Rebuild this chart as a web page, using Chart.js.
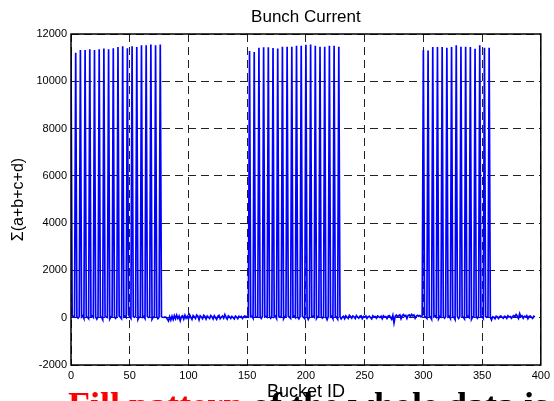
<!DOCTYPE html>
<html>
<head>
<meta charset="utf-8">
<script src="https://cdn.jsdelivr.net/npm/chart.js@4.4.1/dist/chart.umd.min.js"></script>
<style>
  html, body { margin: 0; padding: 0; background: #fff; overflow: hidden; width: 554px; height: 401px; }
  #wrap { position: relative; width: 554px; height: 401px; overflow: hidden; }
  canvas { position: absolute; left: 0; top: 0; }
  #caption { position: absolute; left: 68px; top: 387px; font-family: "Liberation Serif", "Times New Roman", serif;
    font-weight: bold; font-size: 36px; line-height: 36px; white-space: nowrap; color: #000; }
  #caption .red { color: #ff0000; }
</style>
</head>
<body>
<div id="wrap">
<canvas id="c" width="554" height="401"></canvas>
<div id="caption"><span class="red">Fill pattern</span> of the whole data is</div>
</div>
<script>
// ---- data ----
const chartTitle = "Bunch Current";
const xAxisLabel = "Bucket ID";
const yAxisLabel = "Σ(a+b+c+d)";
const xTicks = [0, 50, 100, 150, 200, 250, 300, 350, 400];
const yTicks = [-2000, 0, 2000, 4000, 6000, 8000, 10000, 12000];

// baseline signal per bucket (0..395), small noise around zero
const baseline = [
  0, 40, 60, 30, 0, 50, -20, 40, 0, 30, 80, -30, 0, 60, 20, -40, 0, 40, 70, 10,
  0, 30, -60, 50, 0, 40, 20, -80, 0, 60, 30, 10, 0, -50, 40, 60, 0, 20, -30, 50,
  0, 70, 20, -40, 0, 30, 60, 10, 0, 120, 40, -30, 0, 50, 20, 60, 0, -70, 30, 40,
  0, 20, 50, -30, 0, 60, 10, 40, 0, -60, 30, 20, 0, 50, -40, 30, 0, 40, 20, 10,
  30, 10, -60, -140, 40, -100, 60, -80, 90, -40, 110, -30, 70, -120, 50, 80, -60, 100, -20, 60,
  -50, 120, 20, -70, 90, 40, -30, 110, 60, -90, 80, 30, -40, 100, 50, -60, 70, 20, -30, 90,
  40, -50, 80, 10, -70, 60, 100, -40, 30, 70, -20, 130, 20, -60, 80, 40, -30, 60, 10, -50,
  70, 30, -40, 60, 20, 50, -30, 40, 80, 20, 60, 30, 0, 40, 60, -20, 0, 50, 30, 20,
  0, 40, -30, 60, 0, 30, 50, 20, 0, 60, -20, 40, 0, 30, 70, -30, 0, 40, 20, 60,
  0, -40, 50, 30, 0, 60, 20, -30, 0, 40, 70, 10, 0, 30, -50, 40, 0, 60, 20, -40,
  0, 50, -70, 30, 0, 40, 60, 20, 0, -30, 50, 40, 0, 60, -20, 30, 0, 40, -80, 50,
  0, 30, 60, -40, 0, 50, 20, -60, 0, 40, -50, 30, 60, -40, 80, 20, -30, 100, 50, -20,
  70, 40, -30, 90, 30, -20, 60, 80, -40, 50, 20, 70, -30, 40, 60, 10, -50, 80, 30, 50,
  -20, 70, 40, 10, 60, -40, 80, 30, 50, -30, 70, 90, 20, -60, 100, -220, 60, 110, 40, 90,
  120, -40, 80, 130, 60, 100, -30, 90, 120, 50, 140, 80, 110, -20, 70, 100, 60, 90, 40, 80,
  0, 60, 20, -30, 0, 50, 30, -60, 0, 40, 80, 20, 0, -40, 60, 30, 0, 50, -20, 40,
  0, 30, 60, -30, 0, 40, 20, -70, 0, 50, -30, 40, 0, 60, 20, -50, 0, 30, 60, 10,
  0, -60, 40, 30, 0, 50, -20, 60, 0, 30, 40, -30, 0, 50, 20, 40, 0, 30, -90, 40,
  20, -40, 60, 30, -30, 50, 70, 20, -20, 60, 40, -30, 80, 30, 50, -20, 60, 90, 40, 130,
  60, -30, 170, 40, 80, -20, 60, 30, 90, -40, 50, 70, 20, -30, 60, 40
];

// filled buckets and their summed signal
const train1Ids   = [0, 4, 8, 12, 16, 20, 24, 28, 32, 36, 40, 44, 48, 52, 56, 60, 64, 68, 72, 76];
const train1Peaks = [11180, 11210, 11320, 11320, 11350, 11320, 11350, 11390, 11360, 11400,
                     11450, 11480, 11400, 11480, 11450, 11520, 11520, 11560, 11520, 11560];
const train2Ids   = [152, 156, 160, 164, 168, 172, 176, 180, 184, 188, 192, 196, 200, 204, 208, 212, 216, 220, 224, 228];
const train2Peaks = [11280, 11240, 11420, 11440, 11440, 11410, 11390, 11460, 11460, 11460,
                     11500, 11500, 11550, 11560, 11500, 11460, 11460, 11500, 11500, 11460];
const train3Ids   = [300, 304, 308, 312, 316, 320, 324, 328, 332, 336, 340, 344, 348, 352, 356];
const train3Peaks = [11320, 11300, 11450, 11450, 11450, 11420, 11450, 11520, 11460, 11460,
                     11450, 11380, 11520, 11420, 11420];

// ---- build series ----
const signal = baseline.slice();
[[train1Ids, train1Peaks], [train2Ids, train2Peaks], [train3Ids, train3Peaks]].forEach(([ids, pk]) => {
  ids.forEach((id, k) => { signal[id] = pk[k]; });
});
const points = signal.map((v, i) => ({ x: i, y: v }));

const boxPlugin = {
  id: 'box',
  afterDatasetsDraw(chart) {
    const { ctx, chartArea: a } = chart;
    ctx.save();
    ctx.strokeStyle = '#000';
    ctx.lineWidth = 1.5;
    ctx.setLineDash([]);
    ctx.strokeRect(a.left, a.top, a.right - a.left, a.bottom - a.top);
    ctx.restore();
  }
};

const tickFont = { family: "'Liberation Sans', Arial, Helvetica, sans-serif", size: 11 };

new Chart(document.getElementById('c'), {
  type: 'line',
  data: {
    datasets: [{
      data: points,
      borderColor: '#0000ff',
      borderWidth: 1.7,
      pointRadius: 0,
      tension: 0,
      fill: false
    }]
  },
  options: {
    responsive: false,
    animation: false,
    devicePixelRatio: 1,
    layout: { padding: { left: 0, right: 11, top: 0, bottom: 0 } },
    plugins: {
      legend: { display: false },
      tooltip: { enabled: false },
      title: {
        display: true,
        text: chartTitle,
        fullSize: false,
        color: '#000',
        font: { family: "'Liberation Sans', Arial, Helvetica, sans-serif", size: 17, weight: 'normal', lineHeight: 1 },
        padding: { top: 9, bottom: 8 }
      }
    },
    scales: {
      x: {
        type: 'linear',
        min: 0, max: 400,
        afterBuildTicks(scale) { scale.ticks = xTicks.map(v => ({ value: v })); },
        afterFit(scale) { scale.height = 36; },
        ticks: { color: '#000', font: tickFont, padding: 4, maxRotation: 0, autoSkip: false,
                 callback: v => String(v) },
        grid: { color: '#222', lineWidth: 1, drawTicks: false },
        border: { display: false, dash: [8, 5] },
        title: {
          display: true, text: xAxisLabel, color: '#000',
          font: { family: "'Liberation Sans', Arial, Helvetica, sans-serif", size: 18, lineHeight: 1 },
          padding: { top: 0, bottom: 0 }
        }
      },
      y: {
        type: 'linear',
        min: -2000, max: 12000,
        afterBuildTicks(scale) { scale.ticks = yTicks.map(v => ({ value: v })); },
        afterFit(scale) { scale.width = 71; },
        ticks: { color: '#000', font: tickFont, padding: 4, autoSkip: false,
                 callback: v => String(v) },
        grid: { color: '#222', lineWidth: 1, drawTicks: false },
        border: { display: false, dash: [8, 5] },
        title: {
          display: true, text: yAxisLabel, color: '#000',
          font: { family: "'Liberation Sans', Arial, Helvetica, sans-serif", size: 16, lineHeight: 1.2 },
          padding: { top: 9, bottom: 0 }
        }
      }
    }
  },
  plugins: [boxPlugin]
});
</script>
</body>
</html>
